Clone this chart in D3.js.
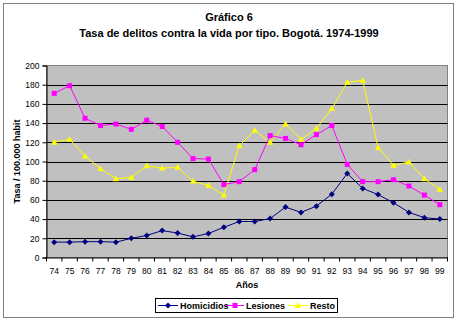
<!DOCTYPE html>
<html><head><meta charset="utf-8">
<script src="https://cdn.jsdelivr.net/npm/d3@7"></script>
<style>body{margin:0;background:#fff}svg{display:block;font-family:"Liberation Sans",Arial,sans-serif}</style>
</head><body><svg id="c" width="458" height="322"></svg>
<script>
const years = ["74","75","76","77","78","79","80","81","82","83","84","85","86","87","88","89","90","91","92","93","94","95","96","97","98","99"];
const homicidios = [16,16,16.5,16.5,16,20,23,28,25.5,21.5,25,31.5,37.5,37.5,40.5,52.5,47,53.5,66,87.5,72,65.5,57,47,41.5,40];
const lesiones = [171,179,145,137.5,139,133.5,143,136.5,120,103,102.5,76,79,91.5,127,124,117.5,128,137.5,97,79,79,81,74.5,65,55];
const resto = [120,123,105.5,92.5,82,83.5,95.5,93,94,79.5,75,65,116.5,132.5,120,139,123,134.5,155,182.5,184.5,114.5,96,99.5,82,71];
const yTicks = [0,20,40,60,80,100,120,140,160,180,200];

const svg = d3.select("#c");
const L = 46.5, R = 447.5, T = 65.5, B = 257.5;

// outer border
svg.append("rect").attr("x",3.5).attr("y",3.5).attr("width",450).attr("height",314)
  .attr("fill","#fff").attr("stroke","#808080").attr("stroke-width",1);

// titles
svg.append("text").attr("x",229).attr("y",21).attr("text-anchor","middle")
  .attr("font-size",11).attr("font-weight","bold").text("Gráfico 6");
svg.append("text").attr("x",229).attr("y",37).attr("text-anchor","middle")
  .attr("font-size",11).attr("font-weight","bold").text("Tasa de delitos contra la vida por tipo. Bogotá. 1974-1999");

const x = d3.scaleBand().domain(years).range([L,R]);
const y = d3.scaleLinear().domain([0,200]).range([B,T]);

svg.append("rect").attr("x",L).attr("y",T).attr("width",R-L).attr("height",B-T)
  .attr("fill","#c0c0c0").attr("stroke","#808080");

// gridlines
svg.append("g").selectAll("line").data(yTicks.filter(d=>d>0&&d<200)).join("line")
  .attr("x1",L).attr("x2",R).attr("y1",d=>Math.round(y(d))+0.5).attr("y2",d=>Math.round(y(d))+0.5)
  .attr("stroke","#000").attr("stroke-width",1);

// y axis
const ya = svg.append("g").attr("transform",`translate(${L},0)`)
  .call(d3.axisLeft(y).tickValues(yTicks).tickSize(4).tickPadding(3));
ya.select(".domain").attr("stroke","#000");
ya.selectAll("text").attr("font-size",8.5).attr("fill","#000").attr("font-family","Liberation Sans, Arial, sans-serif");

// x axis
const xa = svg.append("g").attr("transform",`translate(0,${B})`)
  .call(d3.axisBottom(x).tickSize(0).tickPadding(10));
xa.select(".domain").attr("stroke","#000");
xa.selectAll("text").attr("font-size",8.5).attr("fill","#000").attr("font-family","Liberation Sans, Arial, sans-serif");
// x tick marks at category boundaries
svg.append("g").selectAll("line").data(years.concat(["end"])).join("line")
  .attr("x1",(d,i)=>L+i*x.step()).attr("x2",(d,i)=>L+i*x.step())
  .attr("y1",B).attr("y2",B+4).attr("stroke","#000");

// axis titles
svg.append("text").attr("transform",`translate(20,${(T+B)/2}) rotate(-90)`).attr("text-anchor","middle")
  .attr("font-size",9).attr("font-weight","bold").text("Tasa / 100.000 habit");
svg.append("text").attr("x",(L+R)/2).attr("y",288).attr("text-anchor","middle")
  .attr("font-size",9).attr("font-weight","bold").text("Años");

const series = [
  {name:"Homicidios", data:homicidios, color:"#000080", marker:"diamond"},
  {name:"Lesiones", data:lesiones, color:"#ff00ff", marker:"square"},
  {name:"Resto", data:resto, color:"#ffff00", marker:"triangle"}
];
const cx = d=>x(d)+x.bandwidth()/2;
const line = d3.line().x((d,i)=>cx(years[i])).y(d=>y(d));
function marker(g, type, color){
  if(type==="square") g.append("rect").attr("x",-2.5).attr("y",-2.5).attr("width",5).attr("height",5).attr("fill",color);
  else if(type==="diamond") g.append("path").attr("d","M0,-3L3,0L0,3L-3,0Z").attr("fill",color);
  else g.append("path").attr("d","M0,-3.2L3.2,2.4L-3.2,2.4Z").attr("fill",color);
}
for(const s of [series[2],series[1],series[0]]){
  svg.append("path").datum(s.data).attr("d",line).attr("fill","none").attr("stroke",s.color).attr("stroke-width",1);
  s.data.forEach((v,i)=>{
    const g = svg.append("g").attr("transform",`translate(${cx(years[i])},${y(v)})`);
    marker(g,s.marker,s.color);
  });
}

// legend
svg.append("rect").attr("x",155.5).attr("y",298.5).attr("width",182).attr("height",14)
  .attr("fill","#fff").attr("stroke","#000");
const legX = [[158,178,180],[226,244,246],[288,308,310]];
series.forEach((s,i)=>{
  const [a,b,t] = legX[i];
  svg.append("line").attr("x1",a).attr("x2",b).attr("y1",305.5).attr("y2",305.5).attr("stroke",s.color);
  marker(svg.append("g").attr("transform",`translate(${(a+b)/2},305.5)`),s.marker,s.color);
  svg.append("text").attr("x",t).attr("y",309).attr("font-size",9).attr("font-weight","bold").text(s.name);
});
</script></body></html>
